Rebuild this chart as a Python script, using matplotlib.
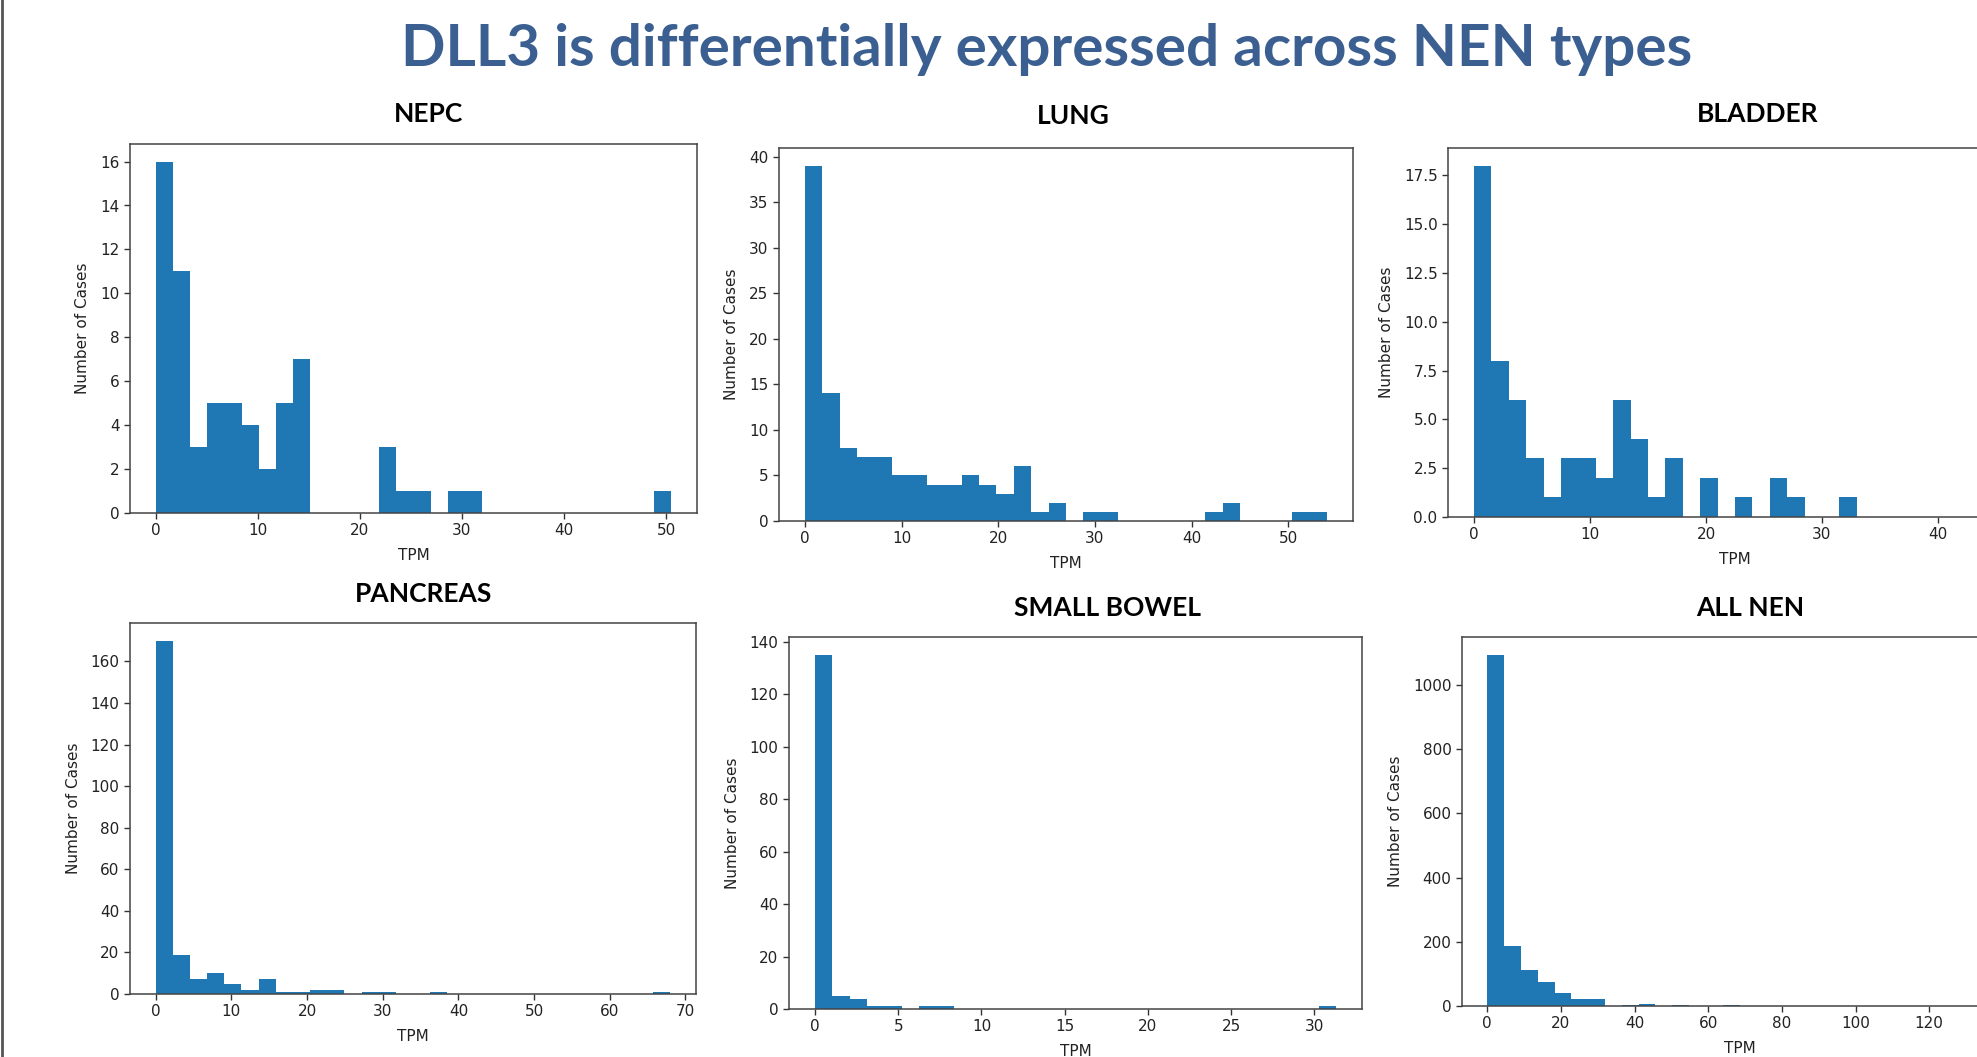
import numpy as np
import matplotlib
matplotlib.use('Agg')
import matplotlib.pyplot as plt
from matplotlib.ticker import MultipleLocator
from matplotlib.lines import Line2D

W, H = 1977, 1057

# counts per bin (30 bins each)
names = ['NEPC', 'LUNG', 'BLADDER', 'PANCREAS', 'SMALL BOWEL', 'ALL NEN']

nepc = [16, 11, 3, 5, 5, 4, 2, 5, 7, 0,
        0, 0, 0, 3, 1, 1, 0, 1, 1, 0,
        0, 0, 0, 0, 0, 0, 0, 0, 0, 1]
lung = [39, 14, 8, 7, 7, 5, 5, 4, 4, 5,
        4, 3, 6, 1, 2, 0, 1, 1, 0, 0,
        0, 0, 0, 1, 2, 0, 0, 0, 1, 1]
bladder = [18, 8, 6, 3, 1, 3, 3, 2, 6, 4,
           1, 3, 0, 2, 0, 1, 0, 2, 1, 0,
           0, 1, 0, 0, 0, 0, 0, 0, 0, 1]
pancreas = [170, 19, 7, 10, 5, 2, 7, 1, 1, 2,
            2, 0, 1, 1, 0, 0, 1, 0, 0, 0,
            0, 0, 0, 0, 0, 0, 0, 0, 0, 1]
small_bowel = [135, 5, 4, 1, 1, 0, 1, 1, 0, 0,
               0, 0, 0, 0, 0, 0, 0, 0, 0, 0,
               0, 0, 0, 0, 0, 0, 0, 0, 0, 1]
all_nen = [1095, 187, 113, 74, 39, 22, 22, 0, 4, 6,
           0, 3, 0, 0, 3, 0, 0, 0, 0, 0,
           0, 0, 0, 0, 0, 0, 0, 0, 0, 1]

counts = [nepc, lung, bladder, pancreas, small_bowel, all_nen]
tpm_max = [50.5, 54, 45, 68, 31.3, 137]   # upper end of TPM range per panel
x_step = [10, 10, 10, 10, 5, 20]
x_last = [50, 50, 40, 70, 30, 120]        # last tick visible on the slide
y_step = [2, 5, 2.5, 20, 20, 200]

# layout in pixels: left, top, width, height
rects = [(130, 144, 567, 369), (779, 148, 574, 373), (1448, 148, 574, 369),
         (130, 623, 566, 371), (789, 637, 573, 372), (1462, 637, 555, 369)]
title_pos = [(429, 114), (1073, 116), (1758, 114),
             (424, 594), (1107, 608), (1750, 608)]

fig = plt.figure(figsize=(W / 100, H / 100), dpi=100)
fig.patch.set_facecolor('white')

for i in range(6):
    l, t, w, h = rects[i]
    ax = fig.add_axes([l / W, 1 - (t + h) / H, w / W, h / H])
    edges = np.linspace(0, tpm_max[i], len(counts[i]) + 1)
    centers = (edges[:-1] + edges[1:]) / 2
    ax.hist(centers, bins=edges, weights=counts[i], color='#1f77b4')
    ax.set_xticks(np.arange(0, x_last[i] + 0.01, x_step[i]))
    ax.yaxis.set_major_locator(MultipleLocator(y_step[i]))
    ax.set_xlabel('TPM', fontsize=11, color='#222222', labelpad=7)
    ax.set_ylabel('Number of Cases', fontsize=11, color='#222222', labelpad=7)
    ax.tick_params(labelsize=11, length=4, width=1, colors='#333333', labelcolor='#222222')
    for s in ax.spines.values():
        s.set_color('#444444')
        s.set_linewidth(1.1)
    tx, ty = title_pos[i]
    fig.text(tx / W, 1 - ty / H, names[i], ha='center', va='center',
             fontsize=19, fontweight='bold', family='Lato', color='black')

fig.text(1047 / W, 1 - 66 / H, 'DLL3 is differentially expressed across NEN types',
         ha='center', va='baseline', fontsize=42, fontweight='bold',
         family='Lato', color='#3B5F91')

# slide border on the left edge
fig.add_artist(Line2D([1.5 / W, 1.5 / W], [0, 1], color='#555555', linewidth=2,
                      transform=fig.transFigure))

fig.savefig('out.png', dpi=100)
